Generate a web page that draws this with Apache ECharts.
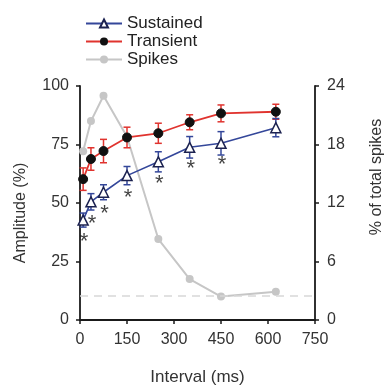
<!DOCTYPE html>
<html>
<head>
<meta charset="utf-8">
<script src="https://cdn.jsdelivr.net/npm/echarts@6/dist/echarts.min.js"></script>
<style>
  html, body {margin: 0; padding: 0; background: #fff;}
  #chart {width: 388px; height: 390px;}
</style>
</head>
<body>
<div id="chart"></div>
<script>
const intervals = [10, 35, 75, 150, 250, 350, 450, 625];
const sustained = [42.7, 50.5, 54.6, 61.7, 67.6, 73.8, 75.5, 82.2];
const sustainedErr = [3, 3.5, 3.2, 3.9, 4.3, 4.6, 5, 3.9];
const transient = [60.2, 68.8, 72.2, 78, 79.8, 84.5, 88.3, 89.0];
const transientErr = [4.8, 4.8, 5, 4.4, 4.3, 3.2, 3.6, 3.2];
const spikes = [17.3, 20.4, 23.0, 18.8, 8.3, 4.2, 2.4, 2.9];
const significant = [true, true, true, true, true, true, true, false];
const chanceLevel = 2.5;

const FONT = 'Liberation Sans, Arial, sans-serif';
const BLUE = '#34479a';
const RED = '#e0332e';
const GREY = '#c6c6c6';

const pairs = (ys) => intervals.map((x, i) => [x, ys[i]]);

function errorBars(color) {
  return function (params, api) {
    const x = api.value(0), y = api.value(1), e = api.value(2);
    const hi = api.coord([x, y + e]);
    const lo = api.coord([x, y - e]);
    const w = 3.5;
    const style = {stroke: color, lineWidth: 1.5};
    return {
      type: 'group',
      children: [
        {type: 'line', shape: {x1: hi[0], y1: hi[1], x2: lo[0], y2: lo[1]}, style},
        {type: 'line', shape: {x1: hi[0] - w, y1: hi[1], x2: hi[0] + w, y2: hi[1]}, style},
        {type: 'line', shape: {x1: lo[0] - w, y1: lo[1], x2: lo[0] + w, y2: lo[1]}, style},
      ]
    };
  };
}

const axisLine = {show: true, lineStyle: {color: '#1a1a1a', width: 1.8}};
const axisTick = {show: true, length: 4, lineStyle: {color: '#1a1a1a', width: 1.5}};
const axisLabel = {color: '#333', fontSize: 16, fontFamily: FONT};

const chart = echarts.init(document.getElementById('chart'));
chart.setOption({
  animation: false,
  grid: {left: 80, right: 73, top: 86, bottom: 70, outerBoundsMode: 'none', containLabel: false},
  legend: {
    data: ['Sustained', 'Transient', 'Spikes'],
    orient: 'vertical',
    left: 80,
    top: 10,
    itemWidth: 36,
    itemHeight: 10,
    itemGap: 1,
    textStyle: {fontSize: 17, fontFamily: FONT, color: '#222'},
  },
  xAxis: {
    type: 'value',
    min: 0,
    max: 750,
    interval: 150,
    name: 'Interval (ms)',
    nameLocation: 'middle',
    nameGap: 49,
    nameTextStyle: {fontSize: 17, fontFamily: FONT, color: '#333'},
    axisLine,
    axisTick,
    axisLabel: {...axisLabel, margin: 12},
    splitLine: {show: false},
  },
  yAxis: [
    {
      type: 'value',
      min: 0,
      max: 100,
      interval: 25,
      name: 'Amplitude (%)',
      nameLocation: 'middle',
      nameGap: 51,
      nameTextStyle: {fontSize: 16, fontFamily: FONT, color: '#333', padding: [0, 20, 0, 0]},
      axisLine,
      axisTick,
      axisLabel: {...axisLabel, margin: 11},
      splitLine: {show: false},
    },
    {
      type: 'value',
      position: 'right',
      min: 0,
      max: 24,
      interval: 6,
      name: '% of total spikes',
      nameLocation: 'middle',
      nameGap: 54,
      nameTextStyle: {fontSize: 16, fontFamily: FONT, color: '#333', padding: [0, 0, 0, 52]},
      axisLine,
      axisTick,
      axisLabel: {...axisLabel, margin: 12},
      splitLine: {show: false},
    }
  ],
  series: [
    {
      name: 'Spikes',
      type: 'line',
      yAxisIndex: 1,
      data: pairs(spikes),
      symbol: 'circle',
      symbolSize: 8,
      lineStyle: {color: GREY, width: 2},
      itemStyle: {color: GREY},
      z: 1,
      markLine: {
        silent: true,
        symbol: 'none',
        label: {show: false},
        lineStyle: {color: '#d8d8d8', type: [8, 6], width: 1.5},
        data: [{yAxis: chanceLevel}],
      },
    },
    {
      type: 'custom',
      data: intervals.map((x, i) => [x, transient[i], transientErr[i]]),
      renderItem: errorBars(RED),
      encode: {x: 0, y: 1},
      z: 2,
    },
    {
      type: 'custom',
      data: intervals.map((x, i) => [x, sustained[i], sustainedErr[i]]),
      renderItem: errorBars(BLUE),
      encode: {x: 0, y: 1},
      z: 2,
    },
    {
      name: 'Transient',
      type: 'line',
      data: pairs(transient),
      symbol: 'circle',
      symbolSize: 9,
      lineStyle: {color: RED, width: 1.8},
      itemStyle: {color: '#111', borderColor: '#111'},
      z: 3,
    },
    {
      name: 'Sustained',
      type: 'line',
      data: pairs(sustained),
      symbol: 'triangle',
      symbolSize: 10,
      lineStyle: {color: BLUE, width: 1.6},
      itemStyle: {color: '#fff', borderColor: '#1c2250', borderWidth: 1.5},
      z: 3,
    },
    {
      type: 'scatter',
      data: pairs(sustained).filter((p, i) => significant[i]),
      symbolSize: 0,
      label: {
        show: true,
        position: 'inside',
        formatter: '*',
        offset: [1, 22],
        fontSize: 22,
        fontFamily: FONT,
        color: '#111',
      },
      z: 4,
    }
  ]
});
</script>
</body>
</html>
